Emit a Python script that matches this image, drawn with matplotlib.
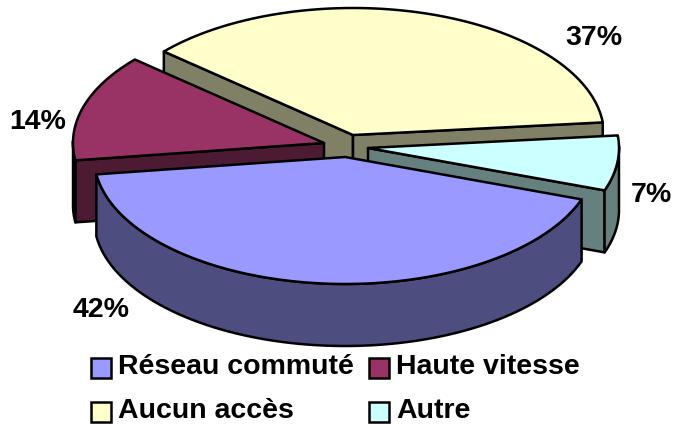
# -*- coding:utf-8 -*-
"""Camembert 3D eclate : acces Internet (dessine a la main, matplotlib n'a pas de pie 3D)"""
import numpy as np
import matplotlib
matplotlib.use('Agg')
import matplotlib.pyplot as plt
from matplotlib.patches import Polygon, Rectangle

plt.rcParams['font.family'] = ['Liberation Sans', 'DejaVu Sans']

# donnees, dans le sens de rotation du graphique
categories = ['Réseau commuté', 'Haute vitesse', 'Aucun accès', 'Autre']
values = [42.4, 13.6, 37, 7]
pct_labels = ['42%', '14%', '37%', '7%']

top_colors = ['#9999FF', '#993366', '#FFFFCC', '#CCFFFF']
wall_colors = ['#4D4D80', '#4D1A33', '#808066', '#668080']

# centre de chaque part (eclatement), en pixels
apex = [(345, 157), (324, 143), (353, 135), (368, 148)]
label_pos = [(101, 310), (38, 122), (594, 38), (651, 195)]
legend_pos = [(91, 368), (369, 368), (91, 412), (369, 412)]
draw_order = [2, 1, 3, 0]  # du fond vers l'avant

RX, RY = 251, 127
DEPTH = 62
START = 19.5
LW = 1.8


def arc_points(i, t1, t2):
    t = np.radians(np.linspace(t1, t2, 80))
    cx, cy = apex[i]
    return np.column_stack([cx + RX * np.cos(t), cy + RY * np.sin(t)])


def add_poly(ax, pts, color):
    ax.add_patch(Polygon(pts, closed=True, facecolor=color, edgecolor='black',
                         linewidth=LW, joinstyle='round'))


def draw_slice(ax, i, t1, t2):
    down = np.array([0, DEPTH])
    arc = arc_points(i, t1, t2)
    center = np.array(apex[i], dtype=float)
    # parois radiales, seulement celles tournees vers nous
    if np.sin(np.radians(t1 - 90)) > 0:
        add_poly(ax, [center, arc[0], arc[0] + down, center + down], wall_colors[i])
    if np.sin(np.radians(t2 + 90)) > 0:
        add_poly(ax, [center, arc[-1], arc[-1] + down, center + down], wall_colors[i])
    # paroi exterieure, partie avant
    front = arc[np.sin(np.radians(np.linspace(t1, t2, 80))) > -0.02]
    if len(front) > 1:
        add_poly(ax, np.vstack([front, front[::-1] + down]), wall_colors[i])
    # dessus
    add_poly(ax, np.vstack([center, arc]), top_colors[i])


fig = plt.figure(figsize=(6.73, 4.24), dpi=100)
ax = fig.add_axes([0, 0, 1, 1])
ax.set_xlim(0, 673)
ax.set_ylim(424, 0)
ax.axis('off')

spans = np.array(values) / sum(values) * 360
starts = START + np.concatenate([[0], np.cumsum(spans)[:-1]])

for i in draw_order:
    draw_slice(ax, i, starts[i], starts[i] + spans[i])

for i, lab in enumerate(pct_labels):
    ax.text(label_pos[i][0], label_pos[i][1], lab, fontsize=20.5, fontweight='bold',
            ha='center', va='center')

for i, cat in enumerate(categories):
    x, y = legend_pos[i]
    ax.add_patch(Rectangle((x, y - 10), 20, 20, facecolor=top_colors[i],
                           edgecolor='black', linewidth=LW))
    ax.text(x + 27, y - 1, cat, fontsize=20.5, fontweight='bold', ha='left', va='center')

fig.savefig('out.png', dpi=100, facecolor='white')
